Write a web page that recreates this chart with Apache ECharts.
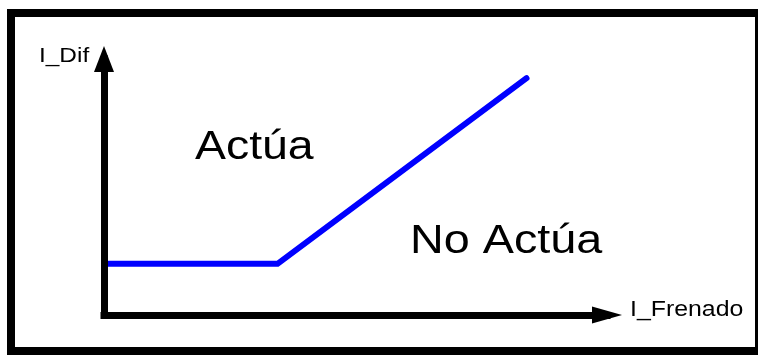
<!DOCTYPE html>
<html>
<head>
<meta charset="utf-8">
<script src="https://cdn.jsdelivr.net/npm/echarts@6/dist/echarts.min.js"></script>
<style>
  html, body { margin: 0; padding: 0; background: #fff; }
  #chart { width: 758px; height: 356px; }
</style>
</head>
<body>
<div id="chart"></div>
<script>
// characteristic of the differential relay
const brakeCurrent = [0, 3.45, 8.4];
const diffCurrent = [2.0, 2.0, 9.25];
const axisNames = ['I_Frenado', 'I_Dif'];
const regionLabels = ['Actúa', 'No Actúa'];

const chart = echarts.init(document.getElementById('chart'));

const curve = brakeCurrent.map((x, i) => [x, diffCurrent[i]]);

// all texts look horizontally stretched in the original
function label(text, x, y, size, sx) {
    return {
        type: 'text',
        x: x,
        y: y,
        scaleX: sx,
        z: 20,
        style: {
            text: text,
            fill: '#000',
            font: size + 'px "Liberation Sans", Arial, sans-serif',
            textAlign: 'left',
            textVerticalAlign: 'middle'
        }
    };
}

const axisLineStyle = {
    show: true,
    symbol: ['none', 'triangle'],
    lineStyle: { color: '#000', width: 7, cap: 'square' }
};

const option = {
    backgroundColor: '#fff',
    animation: false,
    grid: {
        left: 104,
        right: 151,
        top: 59,
        bottom: 41
    },
    xAxis: {
        type: 'value',
        min: 0,
        max: 10,
        z: 10,
        axisLine: Object.assign({}, axisLineStyle, { symbolSize: [17, 30] }),
        axisTick: { show: false },
        axisLabel: { show: false },
        splitLine: { show: false }
    },
    yAxis: {
        type: 'value',
        min: 0,
        max: 10,
        z: 10,
        axisLine: Object.assign({}, axisLineStyle, { symbolSize: [20, 26] }),
        axisTick: { show: false },
        axisLabel: { show: false },
        splitLine: { show: false }
    },
    series: [{
        type: 'line',
        data: curve,
        showSymbol: false,
        silent: true,
        z: 1,
        lineStyle: {
            color: '#0000ff',
            width: 6,
            cap: 'round',
            join: 'miter'
        }
    }],
    graphic: [
        {
            type: 'rect',
            shape: { x: 11, y: 13, width: 748, height: 338 },
            style: { fill: 'none', stroke: '#000', lineWidth: 8 },
            z: 30
        },
        label(axisNames[1], 39, 56, 20, 1.22),
        label(axisNames[0], 630, 310, 22, 1.13),
        label(regionLabels[0], 195, 148, 40, 1.16),
        label(regionLabels[1], 410, 242, 41, 1.14)
    ]
};

chart.setOption(option);
</script>
</body>
</html>
